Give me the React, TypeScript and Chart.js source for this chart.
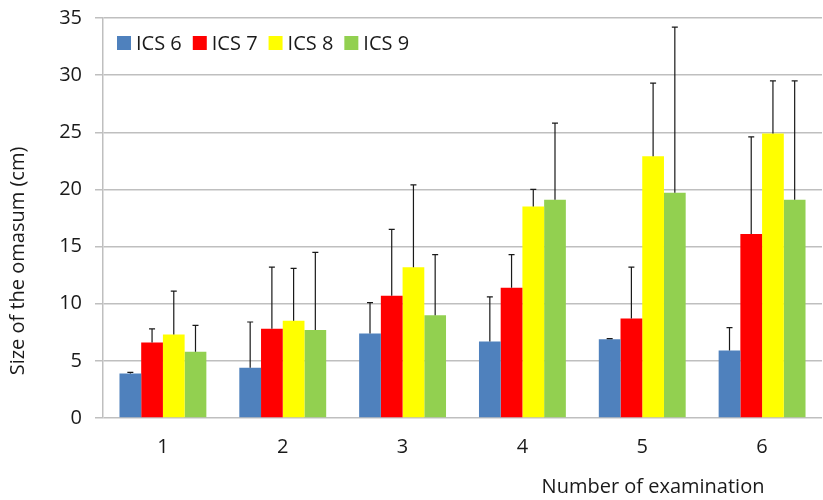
import React, { useEffect, useRef } from "react";
import { Chart, registerables } from "chart.js";

Chart.register(...registerables);

const categories = ["1", "2", "3", "4", "5", "6"];
const seriesNames = ["ICS 6", "ICS 7", "ICS 8", "ICS 9"];
const seriesColors = ["#4F81BD", "#FF0000", "#FFFF00", "#92D050"];

const ics6 = [3.9, 4.4, 7.4, 6.7, 6.9, 5.9];
const ics7 = [6.6, 7.8, 10.7, 11.4, 8.7, 16.1];
const ics8 = [7.3, 8.5, 13.2, 18.5, 22.9, 24.9];
const ics9 = [5.8, 7.7, 9.0, 19.1, 19.7, 19.1];

const ics6Upper = [4.0, 8.4, 10.1, 10.6, 6.95, 7.9];
const ics7Upper = [7.8, 13.2, 16.5, 14.3, 13.2, 24.6];
const ics8Upper = [11.1, 13.1, 20.4, 20.0, 29.3, 29.5];
const ics9Upper = [8.1, 14.5, 14.3, 25.8, 34.2, 29.5];

const yTitle = "Size of the omasum (cm)";
const xTitle = "Number of examination";

const FONT = "'Open Sans', sans-serif";

export default function App() {
  const ref = useRef<HTMLCanvasElement>(null);

  useEffect(() => {
    const values = [ics6, ics7, ics8, ics9];
    const uppers = [ics6Upper, ics7Upper, ics8Upper, ics9Upper];

    const errorBars = {
      id: "errorBars",
      afterDatasetsDraw(chart: any) {
        const ctx = chart.ctx;
        const yScale = chart.scales.y;
        ctx.save();
        ctx.strokeStyle = "#1a1a1a";
        ctx.lineWidth = 1.2;
        chart.data.datasets.forEach((ds: any, di: number) => {
          const meta = chart.getDatasetMeta(di);
          meta.data.forEach((el: any, i: number) => {
            const top = yScale.getPixelForValue(uppers[di][i]);
            ctx.beginPath();
            ctx.moveTo(el.x, el.y);
            ctx.lineTo(el.x, top);
            ctx.moveTo(el.x - 3, top);
            ctx.lineTo(el.x + 3, top);
            ctx.stroke();
          });
        });
        ctx.restore();
      },
    };

    const extras = {
      id: "extras",
      afterDraw(chart: any) {
        const ctx = chart.ctx;
        ctx.save();
        // legend
        ctx.font = `20px ${FONT}`;
        ctx.textBaseline = "middle";
        ctx.textAlign = "left";
        let x = 117;
        const cy = 43;
        seriesNames.forEach((name, i) => {
          ctx.fillStyle = seriesColors[i];
          ctx.fillRect(x, cy - 7, 14, 14);
          ctx.fillStyle = "#1a1a1a";
          const tx = x + 19;
          ctx.fillText(name, tx, cy + 1);
          x = tx + ctx.measureText(name).width + 11;
        });
        // x title
        ctx.textAlign = "center";
        ctx.fillText(xTitle, 653, 487);
        // y title
        ctx.translate(18, 261);
        ctx.rotate(-Math.PI / 2);
        ctx.fillText(yTitle, 0, 0);
        ctx.restore();
      },
    };

    const chart = new Chart(ref.current as HTMLCanvasElement, {
      type: "bar",
      data: {
        labels: categories,
        datasets: seriesNames.map((name, i) => ({
          label: name,
          data: values[i],
          backgroundColor: seriesColors[i],
          borderWidth: 0,
          categoryPercentage: 0.725,
          barPercentage: 1,
        })),
      },
      options: {
        responsive: false,
        animation: false,
        layout: { padding: { left: 0, right: 1, top: 18, bottom: 0 } },
        plugins: {
          legend: { display: false },
          tooltip: { enabled: false },
        },
        scales: {
          x: {
            grid: { display: false, drawTicks: false },
            border: { display: false },
            ticks: {
              color: "#1a1a1a",
              font: { family: FONT, size: 20 },
              padding: 17,
            },
            afterFit(scale: any) {
              scale.height = 82;
              scale.paddingLeft = 0;
              scale.paddingRight = 0;
            },
          },
          y: {
            min: 0,
            max: 35,
            ticks: {
              stepSize: 5,
              color: "#1a1a1a",
              font: { family: FONT, size: 20 },
              padding: 13,
            },
            grid: { color: "#bfbfbf", lineWidth: 1.5, tickLength: 8 },
            border: { color: "#bfbfbf", width: 1.5 },
            afterFit(scale: any) {
              scale.width = 103;
              scale.paddingTop = 0;
              scale.paddingBottom = 0;
            },
          },
        },
      },
      plugins: [errorBars, extras],
    } as any);

    return () => chart.destroy();
  }, []);

  return (
    <div style={{ position: "fixed", left: 0, top: 0, width: 823, height: 500, background: "#fff" }}>
      <canvas ref={ref} width={823} height={500} style={{ width: 823, height: 500, display: "block" }} />
    </div>
  );
}
